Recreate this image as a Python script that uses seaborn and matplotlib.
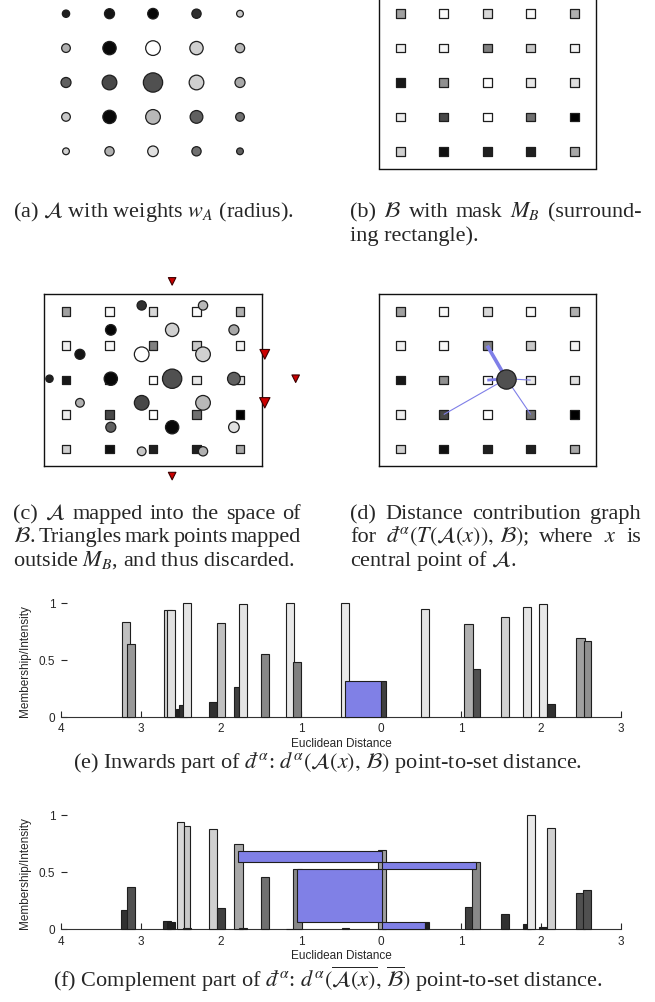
import matplotlib
matplotlib.use("Agg")
import matplotlib.pyplot as plt
import seaborn as sns
import numpy as np

# ---------------- data ----------------
# set A: 5x5 grid, row-major from the top-left point
a_weights = [0.38, 0.52, 0.55, 0.48, 0.35,
             0.45, 0.69, 0.76, 0.69, 0.48,
             0.52, 0.76, 1.00, 0.76, 0.52,
             0.45, 0.69, 0.76, 0.66, 0.45,
             0.35, 0.48, 0.55, 0.48, 0.35]
a_gray = ["#202020", "#151515", "#050505", "#303030", "#c8c8c8",
          "#b0b0b0", "#080808", "#ffffff", "#d0d0d0", "#b8b8b8",
          "#606060", "#484848", "#505050", "#d0d0d0", "#a8a8a8",
          "#c8c8c8", "#080808", "#b8b8b8", "#606060", "#707070",
          "#d0d0d0", "#b0b0b0", "#e0e0e0", "#707070", "#606060"]
# A after the mapping T, in grid units of B (column, row)
a_mapped_x = [-0.38, 0.32, 1.03, 1.74, 2.44,
              0.32, 1.03, 1.74, 2.44, 3.15,
              1.03, 1.74, 2.44, 3.15, 3.86,
              1.74, 2.44, 3.15, 3.86, 4.57,
              2.44, 3.15, 3.86, 4.57, 5.28]
a_mapped_y = [1.96, 1.25, 0.54, -0.17, -0.87,
              2.66, 1.96, 1.25, 0.54, -0.17,
              3.37, 2.66, 1.96, 1.25, 0.54,
              4.07, 3.37, 2.66, 1.96, 1.25,
              4.79, 4.07, 3.37, 2.66, 1.96]
# set B: 5x5 grid intensities
b_gray = ["#a0a0a0", "#fafafa", "#d8d8d8", "#fafafa", "#b0b0b0",
          "#f0f0f0", "#f8f8f8", "#808080", "#c8c8c8", "#f4f4f4",
          "#181818", "#909090", "#ffffff", "#e8e8e8", "#e0e0e0",
          "#eeeeee", "#484848", "#ffffff", "#707070", "#000000",
          "#d0d0d0", "#101010", "#202020", "#202020", "#a8a8a8"]
mask_lo, mask_hi = -0.5, 4.5
center_idx = 12
# contribution graph (d): target B points and line weights
link_col = [2, 2, 3, 1, 3]
link_row = [1, 2, 2, 3, 3]
link_width = [2.6, 2.0, 0.8, 0.8, 0.8]

# (e) inwards part: bars
e_left = [-3.24, -3.18, -2.71, -2.67, -2.56, -2.52, -2.48, -2.15, -2.05, -1.84, -1.78,
          -1.50, -1.19, -1.10, -0.50, -0.45, 0.00, 0.50, 1.04, 1.15, 1.50, 1.77,
          1.975, 2.075, 2.44, 2.54]
e_width = [0.10, 0.10, 0.10, 0.10, 0.08, 0.10, 0.10, 0.10, 0.10, 0.07, 0.10,
           0.10, 0.10, 0.10, 0.10, 0.45, 0.06, 0.10, 0.11, 0.09, 0.10, 0.10,
           0.10, 0.10, 0.11, 0.085]
e_height = [0.836, 0.643, 0.936, 0.94, 0.067, 0.10, 1.0, 0.13, 0.825, 0.263, 0.99,
            0.55, 1.0, 0.485, 1.0, 0.313, 0.313, 0.947, 0.815, 0.416, 0.874, 0.968,
            0.994, 0.114, 0.692, 0.669]
e_color = ["#c0c0c0", "#989898", "#d0d0d0", "#e0e0e0", "#202020", "#303030", "#e4e4e4",
           "#303030", "#c0c0c0", "#404040", "#e4e4e4", "#888888", "#e8e8e8", "#808080",
           "#e8e8e8", "#8080e6", "#404040", "#e4e4e4", "#b0b0b0", "#505050", "#d0d0d0",
           "#e4e4e4", "#e8e8e8", "#303030", "#a0a0a0", "#909090"]

# (f) complement part: bars (some floating)
f_left = [-3.25, -3.18, -2.72, -2.67, -2.555, -2.46, -2.48, -2.15, -2.05, -1.84, -1.78,
          -1.50, -1.19, -1.10, -0.49, -0.04, 1.05, 1.14,
          -1.79, -1.05, 0.01, 0.01, 0.555,
          1.50, 1.77, 1.82, 1.975, 2.075, 2.44, 2.52]
f_width = [0.07, 0.10, 0.09, 0.095, 0.095, 0.07, 0.10, 0.10, 0.10, 0.11, 0.10,
           0.10, 0.09, 0.11, 0.09, 0.10, 0.10, 0.10,
           1.805, 1.065, 1.18, 0.545, 0.045,
           0.10, 0.10, 0.105, 0.105, 0.105, 0.11, 0.105]
f_height = [0.17, 0.364, 0.07, 0.058, 0.933, 0.904, 0.006, 0.872, 0.184, 0.743, 0.01,
            0.452, 0.004, 0.522, 0.005, 0.691, 0.19, 0.589,
            0.096, 0.464, 0.067, 0.058, 0.058,
            0.131, 0.04, 1.0, 0.015, 0.886, 0.312, 0.341]
f_bottom = [0, 0, 0, 0, 0, 0, 0, 0, 0, 0, 0,
            0, 0, 0, 0, 0, 0, 0,
            0.589, 0.058, 0.522, 0, 0,
            0, 0, 0, 0, 0, 0, 0]
f_color = ["#303030", "#505050", "#303030", "#202020", "#d8d8d8", "#c8c8c8", "#202020",
           "#d0d0d0", "#404040", "#a8a8a8", "#202020", "#707070", "#505050", "#888888",
           "#606060", "#a0a0a0", "#404040", "#888888",
           "#8080e6", "#8080e6", "#8080e6", "#8080e6", "#202020",
           "#303030", "#202020", "#e8e8e8", "#202020", "#d0d0d0", "#505050", "#505050"]

x_ticks = [-4, -3, -2, -1, 0, 1, 2, 3]
x_ticklabels = ["4", "3", "2", "1", "0", "1", "2", "3"]

# ---------------- style ----------------
sns.set_theme(style="white")
plt.rcParams["font.family"] = ["Liberation Sans", "DejaVu Sans"]
plt.rcParams["mathtext.fontset"] = "stix"
SERIF = ["Liberation Serif", "DejaVu Serif"]
CAP_SIZE = 16
EDGE = "#1e1e1e"
DIAM_PT = 13.9   # marker diameter (pt) of weight 1
TRI_PT = 15.5

fig = plt.figure(figsize=(6.55, 10.03), dpi=100)

gx, gy = np.meshgrid(np.arange(5), np.arange(5))
gx, gy = gx.ravel(), gy.ravel()
w = np.array(a_weights)
mx, my = np.array(a_mapped_x), np.array(a_mapped_y)


def grid_axes(rect, frame=True):
    ax = fig.add_axes(rect)
    ax.set_xlim(mask_lo, mask_hi)
    ax.set_ylim(mask_hi, mask_lo)
    ax.set_xticks([])
    ax.set_yticks([])
    for sp in ax.spines.values():
        sp.set_visible(frame)
        sp.set_color("#111111")
        sp.set_linewidth(1.0)
    ax.patch.set_alpha(0)
    return ax


def draw_b(ax):
    ax.scatter(gx, gy, s=6.3 ** 2, marker="s", c=b_gray, edgecolors=EDGE,
               linewidths=0.9, zorder=2)


top_rect_y = 1 - 169.5 / 1003
mid_rect_y = 1 - 467.1 / 1003
left_x, right_x = 44.25 / 655, 378.5 / 655
gw, gh = 217.5 / 655, 172 / 1003

# (a)
ax_a = grid_axes([left_x, top_rect_y, gw, gh], frame=False)
ax_a.scatter(gx, gy, s=(w * DIAM_PT) ** 2, c=a_gray, edgecolors=EDGE, linewidths=0.9,
             clip_on=False)

# (b)
ax_b = grid_axes([right_x, top_rect_y, gw, gh])
draw_b(ax_b)

# (c)
ax_c = grid_axes([left_x, mid_rect_y, gw, gh])
draw_b(ax_c)
inside = (mx >= mask_lo) & (mx <= mask_hi) & (my >= mask_lo) & (my <= mask_hi)
ax_c.scatter(mx[inside], my[inside], s=(w[inside] * DIAM_PT) ** 2,
             c=np.array(a_gray)[inside], edgecolors=EDGE, linewidths=0.9,
             zorder=3, clip_on=False)
ax_c.scatter(mx[~inside], my[~inside], s=(w[~inside] * TRI_PT) ** 2, marker="v",
             c="#cc0000", edgecolors="#3a0000", linewidths=0.8, zorder=3,
             clip_on=False)

# (d)
ax_d = grid_axes([right_x, mid_rect_y, gw, gh])
draw_b(ax_d)
for col, row, lw in zip(link_col, link_row, link_width):
    ax_d.plot([mx[center_idx], col], [my[center_idx], row], color="#7f7fe8",
              lw=lw, solid_capstyle="butt", zorder=3)
ax_d.scatter([mx[center_idx]], [my[center_idx]], s=(w[center_idx] * DIAM_PT) ** 2,
             c=[a_gray[center_idx]], edgecolors=EDGE, linewidths=0.9, zorder=4)


# (e), (f) bar charts
def bar_axes(rect):
    ax = fig.add_axes(rect)
    ax.set_xlim(-4, 3)
    ax.set_ylim(0, 1)
    ax.set_xticks(x_ticks)
    ax.set_xticklabels(x_ticklabels)
    ax.set_yticks([0, 0.5, 1])
    ax.set_yticklabels(["0", "0.5", "1"])
    ax.tick_params(direction="in", length=4, width=0.8, colors="#262626",
                   labelsize=8.5, bottom=True, left=True, pad=4)
    sns.despine(ax=ax, left=True)
    ax.spines["bottom"].set_color("#333333")
    ax.spines["bottom"].set_linewidth(0.8)
    ax.set_xlabel("Euclidean Distance", fontsize=8.5, color="#262626", labelpad=2)
    ax.set_ylabel("Membership/Intensity", fontsize=8.5, color="#262626", labelpad=6)
    ax.patch.set_alpha(0)
    return ax


ax_e = bar_axes([61 / 655, 1 - 717.7 / 1003, 560 / 655, 113.7 / 1003])
ax_e.bar(e_left, e_height, width=e_width, align="edge", color=e_color,
         edgecolor=EDGE, linewidth=0.8, zorder=3, clip_on=False)

ax_f = bar_axes([61 / 655, 1 - 930 / 1003, 560 / 655, 114.3 / 1003])
ax_f.bar(f_left, f_height, width=f_width, bottom=f_bottom, align="edge",
         color=f_color, edgecolor=EDGE, linewidth=0.8, zorder=3, clip_on=False)

# ---------------- captions ----------------
renderer = fig.canvas.get_renderer()


def fy(px):
    return 1 - px / 1003


def justified(words, x0, x1, y_px):
    texts = [fig.text(x0, fy(y_px), wd, fontsize=CAP_SIZE, family=SERIF,
                      va="baseline", ha="left") for wd in words]
    widths = [t.get_window_extent(renderer).width / fig.bbox.width for t in texts]
    gap = (x1 - x0 - sum(widths)) / (len(words) - 1)
    x = x0
    for t, wd in zip(texts, widths):
        t.set_x(x)
        x += wd + gap


def plain(s, x0, y_px, ha="left"):
    fig.text(x0, fy(y_px), s, fontsize=CAP_SIZE, family=SERIF, va="baseline", ha=ha)


L0, L1 = 13 / 655, 301 / 655
R0, R1 = 350 / 655, 641 / 655

plain(r"(a) $\mathcal{A}$ with weights $w_A$ (radius).", L0, 217)
justified(["(b)", r"$\mathcal{B}$", "with", "mask", r"$M_B$", "(surround-"], R0, R1, 217)
plain("ing rectangle).", R0, 241)

justified(["(c)", r"$\mathcal{A}$", "mapped", "into", "the", "space", "of"], L0, L1, 519)
justified([r"$\mathcal{B}$.", "Triangles", "mark", "points", "mapped"], L0, L1, 542.5)
plain(r"outside $M_B$, and thus discarded.", L0, 566)

justified(["(d)", "Distance", "contribution", "graph"], R0, R1, 519)
justified(["for", r"$đ^{\alpha}(T(\mathcal{A}(x)),\,\mathcal{B})$;", "where", r"$x$", "is"],
          R0, R1, 542.5)
plain(r"central point of $\mathcal{A}$.", R0, 566)

plain(r"(e) Inwards part of $đ^{\alpha}$: $d^{\alpha}(\mathcal{A}(x),\,\mathcal{B})$ "
      r"point-to-set distance.", 0.5, 768, ha="center")
plain(r"(f) Complement part of $đ^{\alpha}$: "
      r"$d^{\alpha}(\overline{\mathcal{A}(x)},\,\overline{\mathcal{B}})$ "
      r"point-to-set distance.", 0.5, 987, ha="center")

fig.savefig("out.png", dpi=100)
